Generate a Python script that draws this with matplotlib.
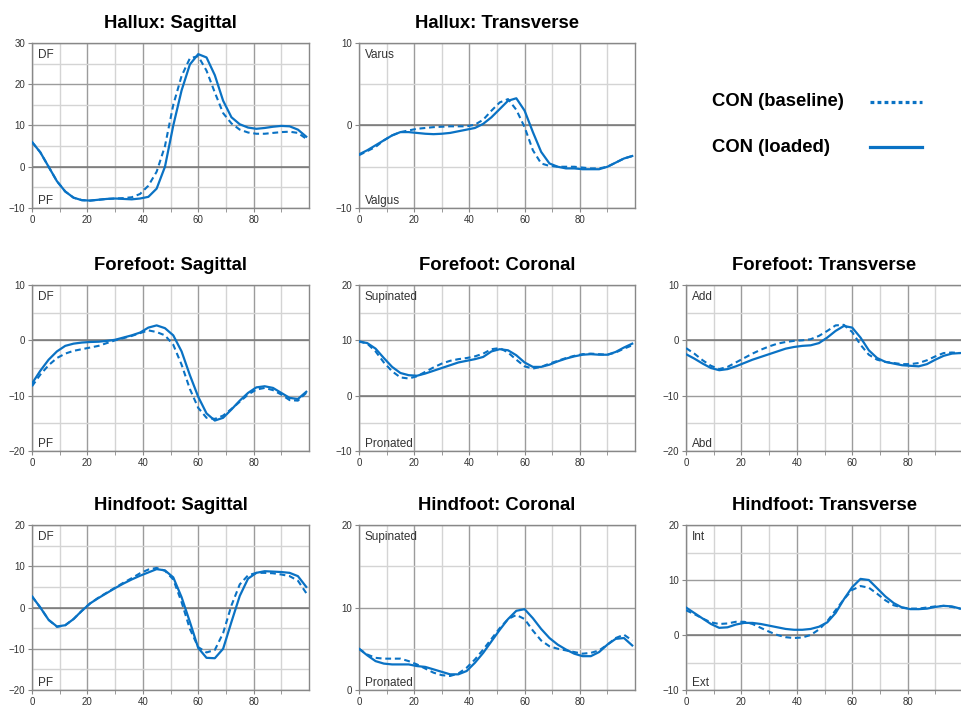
import matplotlib
matplotlib.use('Agg')
import matplotlib.pyplot as plt
from matplotlib.lines import Line2D
from matplotlib.ticker import FixedLocator, MultipleLocator

plt.rcParams['font.family'] = ['Liberation Sans', 'DejaVu Sans']

# percent of gait cycle
pct = [0, 3, 6, 9, 12, 15, 18, 21, 24, 27, 30, 33, 36, 39, 42, 45, 48,
       51, 54, 57, 60, 63, 66, 69, 72, 75, 78, 81, 84, 87, 90, 93, 96, 99]

hallux_sag_base = [6.0, 3.5, 0.0, -3.5, -6.0, -7.5, -8.1, -8.2, -8.0, -7.8, -7.7, -7.6, -7.4, -6.6, -4.6, -1.2, 5.0,
                   15.0, 22.0, 26.3, 26.8, 23.3, 18.0, 13.0, 10.5, 9.0, 8.3, 8.0, 8.0, 8.2, 8.4, 8.5, 8.2, 6.8]
hallux_sag_load = [6.0, 3.5, 0.0, -3.5, -6.0, -7.5, -8.1, -8.2, -8.0, -7.8, -7.7, -7.8, -7.9, -7.7, -7.3, -5.3, 0.0,
                   10.0, 18.5, 24.8, 27.3, 26.5, 22.2, 16.0, 12.0, 10.3, 9.5, 9.2, 9.4, 9.7, 9.9, 9.8, 9.0, 7.3]

hallux_tra_base = [-3.6, -3.1, -2.6, -1.8, -1.2, -0.8, -0.6, -0.4, -0.3, -0.2, -0.15, -0.1, -0.1, -0.1, 0.1, 0.7, 1.8,
                   2.8, 3.2, 1.9, -0.2, -3.0, -4.6, -4.9, -5.0, -5.0, -5.0, -5.1, -5.2, -5.2, -5.0, -4.5, -4.0, -3.7]
hallux_tra_load = [-3.5, -3.0, -2.4, -1.8, -1.2, -0.8, -0.8, -0.9, -1.0, -1.05, -1.0, -0.9, -0.7, -0.5, -0.3, 0.2, 1.0,
                   2.0, 3.0, 3.3, 1.8, -0.8, -3.2, -4.6, -5.0, -5.2, -5.2, -5.3, -5.3, -5.3, -5.0, -4.5, -4.0, -3.7]

ff_sag_base = [-8.3, -6.2, -4.5, -3.2, -2.4, -1.9, -1.6, -1.3, -1.0, -0.5, 0.0, 0.4, 0.8, 1.3, 1.8, 1.5, 0.9,
               -0.8, -4.4, -8.8, -12.2, -14.0, -14.2, -13.6, -12.4, -11.1, -9.8, -8.9, -8.6, -9.0, -9.8, -10.8, -10.9, -9.5]
ff_sag_load = [-7.8, -5.5, -3.5, -2.0, -1.0, -0.6, -0.4, -0.3, -0.25, -0.1, 0.1, 0.5, 0.9, 1.4, 2.3, 2.7, 2.2,
               0.9, -2.0, -6.3, -10.2, -13.2, -14.5, -14.0, -12.5, -10.9, -9.5, -8.5, -8.3, -8.6, -9.5, -10.4, -10.6, -9.3]

ff_cor_base = [9.8, 9.4, 8.0, 6.0, 4.4, 3.3, 3.1, 3.5, 4.3, 5.1, 5.8, 6.3, 6.6, 6.8, 7.1, 7.6, 8.4,
               8.6, 7.8, 6.5, 5.3, 4.9, 5.2, 5.8, 6.3, 6.8, 7.2, 7.5, 7.6, 7.5, 7.4, 7.8, 8.5, 9.1]
ff_cor_load = [9.8, 9.5, 8.5, 6.8, 5.2, 4.1, 3.7, 3.6, 4.0, 4.5, 5.0, 5.5, 6.0, 6.3, 6.6, 7.0, 8.0,
               8.4, 8.2, 7.3, 6.0, 5.2, 5.2, 5.6, 6.2, 6.7, 7.1, 7.4, 7.5, 7.4, 7.4, 7.9, 8.7, 9.4]

ff_tra_base = [-1.4, -2.4, -3.6, -4.6, -5.2, -4.8, -4.0, -3.2, -2.4, -1.7, -1.1, -0.6, -0.3, -0.1, 0.0, 0.2, 0.8,
               1.7, 2.7, 2.8, 1.5, -0.8, -2.6, -3.5, -3.9, -4.1, -4.3, -4.3, -4.1, -3.6, -2.9, -2.3, -2.2, -2.3]
ff_tra_load = [-2.5, -3.3, -4.2, -5.0, -5.4, -5.2, -4.7, -4.1, -3.5, -3.0, -2.5, -2.0, -1.5, -1.2, -1.0, -0.9, -0.5,
               0.5, 1.7, 2.6, 2.3, 0.5, -1.8, -3.2, -3.9, -4.2, -4.5, -4.6, -4.7, -4.3, -3.5, -2.8, -2.4, -2.3]

hf_sag_base = [2.7, 0.0, -3.0, -4.7, -4.3, -2.8, -0.8, 1.0, 2.4, 3.6, 4.8, 6.0, 7.1, 8.3, 9.2, 9.6, 8.9,
               6.8, 1.3, -5.2, -9.6, -10.9, -10.3, -6.2, 0.5, 5.6, 7.8, 8.4, 8.4, 8.3, 8.0, 7.6, 6.5, 3.5]
hf_sag_load = [2.7, 0.0, -3.0, -4.6, -4.3, -2.8, -0.8, 1.0, 2.3, 3.5, 4.7, 5.8, 6.8, 7.7, 8.5, 9.3, 9.0,
               7.3, 2.5, -3.5, -9.8, -12.2, -12.3, -10.0, -3.5, 2.8, 7.0, 8.4, 8.8, 8.7, 8.6, 8.4, 7.6, 5.0]

hf_cor_base = [5.0, 4.3, 3.9, 3.8, 3.8, 3.8, 3.5, 3.1, 2.6, 2.1, 1.8, 1.7, 2.0, 2.7, 3.7, 4.9, 6.2,
               7.5, 8.6, 9.1, 8.6, 7.2, 6.0, 5.3, 5.0, 4.8, 4.6, 4.4, 4.5, 4.8, 5.5, 6.3, 6.7, 6.0]
hf_cor_load = [5.0, 4.2, 3.5, 3.2, 3.1, 3.1, 3.1, 2.9, 2.8, 2.5, 2.2, 1.9, 1.9, 2.3, 3.3, 4.5, 5.9,
               7.3, 8.6, 9.6, 9.8, 8.7, 7.4, 6.3, 5.5, 4.9, 4.4, 4.1, 4.1, 4.6, 5.5, 6.2, 6.3, 5.4]

hf_tra_base = [4.5, 3.8, 3.0, 2.3, 2.0, 2.1, 2.4, 2.4, 2.0, 1.3, 0.6, 0.0, -0.4, -0.55, -0.45, 0.0, 1.0,
               2.5, 4.5, 6.5, 8.2, 8.9, 8.6, 7.5, 6.3, 5.4, 5.0, 4.8, 4.8, 5.0, 5.2, 5.3, 5.1, 4.8]
hf_tra_load = [5.0, 4.0, 3.0, 2.0, 1.3, 1.4, 1.9, 2.2, 2.2, 2.0, 1.7, 1.4, 1.1, 0.95, 0.95, 1.1, 1.5,
               2.3, 4.0, 6.5, 8.7, 10.2, 10.0, 8.5, 7.0, 5.8, 5.0, 4.7, 4.7, 4.8, 5.1, 5.3, 5.2, 4.8]

x_labels = [0, 20, 40, 60, 80]
x_minor = [10, 30, 50, 70, 90]

BLUE = '#0a72c4'
W, H = 961, 708

# row, col, title, baseline, loaded, ylim, top label, bottom label
panels = [
    (0, 0, 'Hallux: Sagittal', hallux_sag_base, hallux_sag_load, (-10, 30), 'DF', 'PF'),
    (0, 1, 'Hallux: Transverse', hallux_tra_base, hallux_tra_load, (-10, 10), 'Varus', 'Valgus'),
    (1, 0, 'Forefoot: Sagittal', ff_sag_base, ff_sag_load, (-20, 10), 'DF', 'PF'),
    (1, 1, 'Forefoot: Coronal', ff_cor_base, ff_cor_load, (-10, 20), 'Supinated', 'Pronated'),
    (1, 2, 'Forefoot: Transverse', ff_tra_base, ff_tra_load, (-20, 10), 'Add', 'Abd'),
    (2, 0, 'Hindfoot: Sagittal', hf_sag_base, hf_sag_load, (-20, 20), 'DF', 'PF'),
    (2, 1, 'Hindfoot: Coronal', hf_cor_base, hf_cor_load, (0, 20), 'Supinated', 'Pronated'),
    (2, 2, 'Hindfoot: Transverse', hf_tra_base, hf_tra_load, (-10, 20), 'Int', 'Ext'),
]

col_left = [32, 359, 686]
col_width = [277, 276, 277]
row_top = [43, 285, 525]
row_bottom = [208, 451, 690]


def makePanel(fig, row, col, title, base, load, ylim, top, bottom):
    l = col_left[col]
    w = col_width[col]
    t = row_top[row]
    b = row_bottom[row]
    ax = fig.add_axes([l / W, 1 - b / H, w / W, (b - t) / H])
    ax.set_xlim(0, 100)
    ax.set_ylim(*ylim)
    ax.xaxis.set_major_locator(FixedLocator(x_labels))
    ax.xaxis.set_minor_locator(FixedLocator(x_minor))
    ax.yaxis.set_major_locator(MultipleLocator(10))
    ax.yaxis.set_minor_locator(MultipleLocator(5))
    ax.grid(which='major', color='#9c9c9c', linewidth=1.0)
    ax.grid(which='minor', color='#d4d4d4', linewidth=1.0)
    ax.set_axisbelow(True)
    if ylim[0] < 0 < ylim[1]:
        ax.axhline(0, color='#777777', linewidth=1.1, zorder=1)
    for s in ax.spines.values():
        s.set_color('#888888')
        s.set_linewidth(1.0)
    ax.tick_params(which='both', length=3, color='#888888', labelsize=7, labelcolor='#333333', pad=2)
    ax.tick_params(axis='y', which='minor', length=0)
    ax.plot(pct, base, color=BLUE, linewidth=1.5, linestyle=(0, (2.8, 1.8)), zorder=3,
            dash_joinstyle='round', dash_capstyle='butt')
    ax.plot(pct, load, color=BLUE, linewidth=1.6, zorder=4, solid_joinstyle='round')
    ax.set_title(title, fontsize=13.3, fontweight='bold', pad=11)
    ax.annotate(top, xy=(0, 1), xycoords='axes fraction', xytext=(4, -4), textcoords='offset points',
                ha='left', va='top', fontsize=8.5, color='#333333')
    ax.annotate(bottom, xy=(0, 0), xycoords='axes fraction', xytext=(4, 1), textcoords='offset points',
                ha='left', va='bottom', fontsize=8.5, color='#333333')
    return ax


fig = plt.figure(figsize=(W / 100, H / 100), dpi=100)
for p in panels:
    makePanel(fig, *p)

# key: label text on the left, line sample on the right
key_labels = ['CON (baseline)', 'CON (loaded)']
key_styles = [(0, (1.2, 1.0)), '-']
key_rows = [101.5, 147]
for lab, sty, yk in zip(key_labels, key_styles, key_rows):
    fig.text(712 / W, 1 - yk / H, lab, fontsize=13.3, fontweight='bold', ha='left', va='center')
    fig.add_artist(Line2D([870 / W, 922 / W], [1 - yk / H, 1 - yk / H], color=BLUE,
                          linewidth=2.3, linestyle=sty))

fig.savefig('out.png', dpi=100)
